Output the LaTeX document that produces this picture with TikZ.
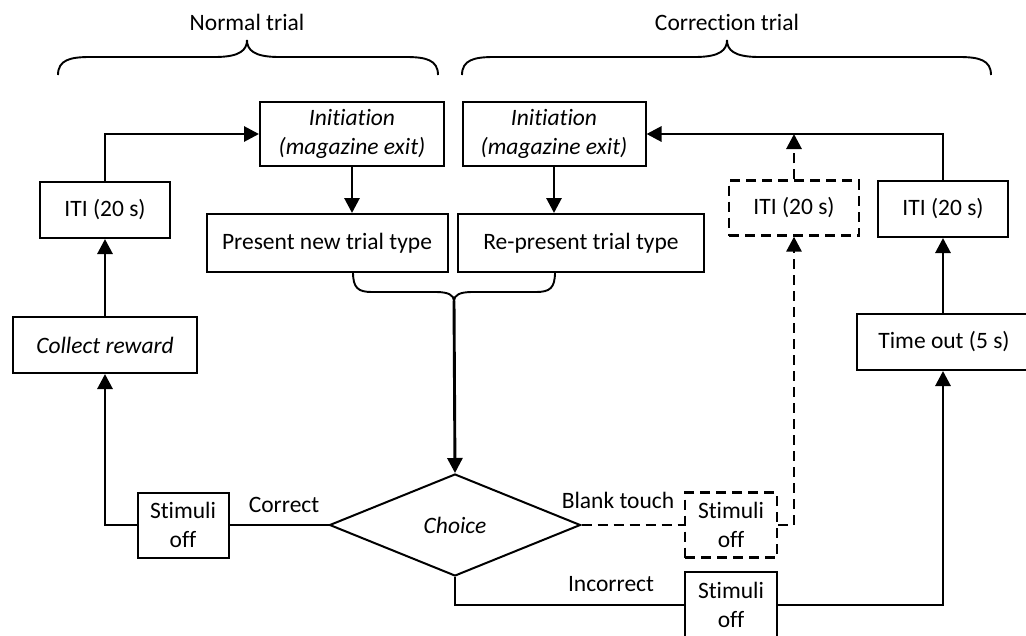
\documentclass[tikz,border=0pt]{standalone}
\usepackage{fontspec}
\setmainfont{Carlito}[Ligatures=NoCommon]
\usepackage{tikz}
\usetikzlibrary{shapes.geometric, arrows.meta, positioning, calc}
\tikzstyle{arrow}=[-{Triangle[length=15pt, width=15pt]}, line width=2.9pt, color=black]
\tikzstyle{link}=[line width=2.1pt, color=black]

\begin{document}
\begin{tikzpicture}[x=1pt, y=-1pt,
  box/.style={rectangle, draw=black, line width=2pt, fill=white,
              align=center, inner sep=0pt,
              font=\fontsize{23.5}{29}\selectfont},
  dbox/.style={box, line width=2.3pt, dash pattern=on 10pt off 6pt},
  lbl/.style={font=\fontsize{23.5}{29}\selectfont, inner sep=0pt}
]
\useasboundingbox (0,0) rectangle (1026,635);

% Headings and braces
\node[lbl] (normal) at (247,22) {Normal trial};
\node[lbl] (correction) at (727,22) {Correction trial};
\draw[link, line width=1.9pt] (58,75) .. controls (58,60) and (70,57) .. (90,57) -- (215,57)
  .. controls (240,57) and (247,50) .. (247,40) .. controls (247,50) and (254,57) .. (279,57)
  -- (406,57) .. controls (426,57) and (438,60) .. (438,75);
\draw[link, line width=1.9pt] (462,75) .. controls (462,60) and (474,57) .. (494,57) -- (695,57)
  .. controls (720,57) and (727,50) .. (727,40) .. controls (727,50) and (734,57) .. (759,57)
  -- (959,57) .. controls (979,57) and (991,60) .. (991,75);

% Normal trial column
\node[box, minimum width=184pt, minimum height=64pt] (initN) at (352,134)
  {\itshape Initiation\\\itshape (magazine exit)};
\node[box, minimum width=241pt, minimum height=58pt] (presN) at (327,243) {Present new trial type};
\node[box, minimum width=130pt, minimum height=56pt] (itiN) at (105,210) {ITI (20 s)};
\node[box, minimum width=184pt, minimum height=56pt] (collect) at (105,345) {\itshape Collect reward};
\node[box, minimum width=91pt, minimum height=65pt] (stimN) at (183,525) {Stimuli\\off};

% Correction trial column
\node[box, minimum width=183pt, minimum height=64pt] (initC) at (554,134)
  {\itshape Initiation\\\itshape (magazine exit)};
\node[box, minimum width=246pt, minimum height=58pt] (presC) at (581,243) {Re-present trial type};
\node[dbox, minimum width=130pt, minimum height=55pt] (itiD) at (794,208) {ITI (20 s)};
\node[box, minimum width=130pt, minimum height=56pt] (itiC) at (943,209) {ITI (20 s)};
\node[box, minimum width=174pt, minimum height=56pt] (timeout) at (944,342) {Time out (5 s)};
\node[dbox, minimum width=92pt, minimum height=65pt] (stimD) at (731,525) {Stimuli\\off};
\node[box, minimum width=92pt, minimum height=67pt] (stimI) at (731,605) {Stimuli\\off};

% Choice
\node[draw=black, line width=2pt, diamond, minimum width=251pt, minimum height=102pt,
      inner sep=0pt, font=\fontsize{23.5}{29}\selectfont\itshape] (choice) at (455,525) {Choice};

% Joining brace
\coordinate (join) at (454,301);
\draw[link, line width=1.9pt] (353,272) .. controls (353,288) and (358,292) .. (372,292) -- (436,292)
  .. controls (448,292) and (454,295) .. (join) .. controls (454,295) and (460,292) .. (472,292)
  -- (536,292) .. controls (550,292) and (555,288) .. (555,272);

% Arrows
\draw[arrow] (itiN.north) |- (initN.west);
\draw[arrow] (initN.south) -- (initN.south |- presN.north);
\draw[arrow] (initC.south) -- (initC.south |- presC.north);
\draw[arrow] (join) -- (choice.north);
\draw[link] (choice.west) -- (stimN.east);
\draw[arrow] (stimN.west) -| (collect.south);
\draw[arrow] (collect) -- (itiN);
\draw[link, line width=2.4pt, dash pattern=on 10pt off 6pt] (choice.east) -- (stimD.west);
\draw[arrow, dash pattern=on 10pt off 6pt] (stimD.east) -| (itiD.south);
\draw[arrow, dash pattern=on 10pt off 6pt] (itiD.north) -- (itiD.north |- initC.east);
\draw[arrow] (itiC.north) |- (initC.east);
\draw[link] (choice.south) |- (stimI.west);
\draw[arrow] (stimI.east) -| (itiC.south |- timeout.south);
\draw[arrow] (itiC.south |- timeout.north) -- (itiC.south);

% Branch labels
\node[lbl] (lcorrect) at (284,505) {Correct};
\node[lbl] (lblank) at (618,500) {Blank touch};
\node[lbl] (lincorrect) at (611,584) {Incorrect};
\end{tikzpicture}
\end{document}
